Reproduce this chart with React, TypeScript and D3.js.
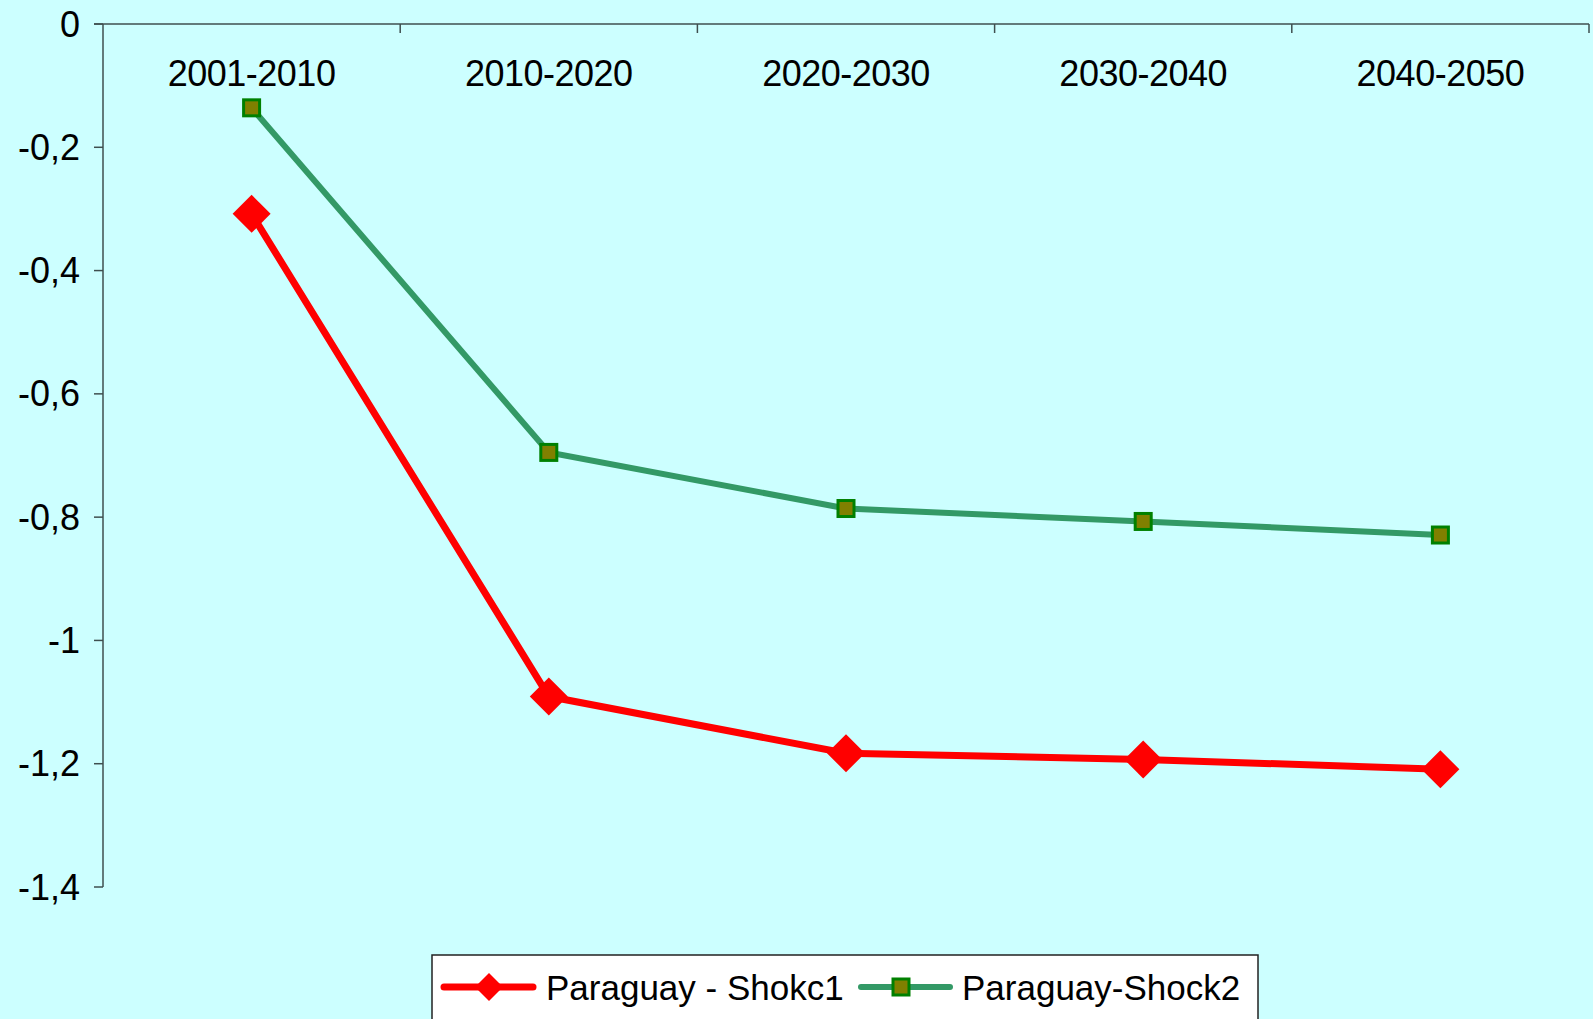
import React from 'react'
import * as d3 from 'd3'

const width = 1593
const height = 1019

const margins = {
  top: 24,
  left: 103,
  right: 4,
  bottom: 132,
}

const periods = ['2001-2010', '2010-2020', '2020-2030', '2030-2040', '2040-2050']
const shock1Values = [-0.308, -1.091, -1.183, -1.193, -1.209]
const shock2Values = [-0.136, -0.695, -0.786, -0.807, -0.829]
const yTicks = [0, -0.2, -0.4, -0.6, -0.8, -1, -1.2, -1.4]

const seriesNames = ['Paraguay - Shokc1', 'Paraguay-Shock2']

const colors = {
  background: '#CCFFFF',
  axis: '#3f4f4f',
  red: '#FF0000',
  green: '#339966',
  squareFill: '#808000',
  squareStroke: '#008000',
}

const textStyle = {
  fontFamily: 'Liberation Sans, Arial, sans-serif',
  fontSize: '35px',
  fill: '#000',
}

const formatTick = (v: number) => (v === 0 ? '0' : String(v).replace('.', ','))

function Diamond({ x, y, r }: { x: number; y: number; r: number }) {
  return (
    <path
      d={`M${x},${y - r}L${x + r},${y}L${x},${y + r}L${x - r},${y}Z`}
      fill={colors.red}
    />
  )
}

function Square({ x, y, s }: { x: number; y: number; s: number }) {
  return (
    <rect
      x={x - s / 2}
      y={y - s / 2}
      width={s}
      height={s}
      fill={colors.squareFill}
      stroke={colors.squareStroke}
      strokeWidth={3}
    />
  )
}

export default function App() {
  const x = d3
    .scaleBand()
    .domain(periods)
    .range([margins.left, width - margins.right])

  const y = d3
    .scaleLinear()
    .domain([0, -1.4])
    .range([margins.top, height - margins.bottom])

  const xc = (p: string) => (x(p) as number) + x.bandwidth() / 2

  const line = d3
    .line<number>()
    .x((_, i) => xc(periods[i]))
    .y((d) => y(d))

  const boundaries = periods.map((p) => x(p) as number).concat([width - margins.right])

  const legend = { x: 432, y: 955, w: 826, h: 80, lineY: 987 }

  return (
    <svg
      width={width}
      height={height}
      style={{ position: 'absolute', top: 0, left: 0, display: 'block' }}
    >
      <rect x={0} y={0} width={width} height={height} fill={colors.background} />

      {/* y axis */}
      <line
        x1={margins.left}
        x2={margins.left}
        y1={y(0)}
        y2={y(-1.4)}
        stroke={colors.axis}
        strokeWidth={1.5}
      />
      {yTicks.map((t) => (
        <g key={'y-' + t}>
          <line
            x1={margins.left - 9}
            x2={margins.left}
            y1={y(t)}
            y2={y(t)}
            stroke={colors.axis}
            strokeWidth={1.5}
          />
          <text
            x={80}
            y={y(t)}
            textAnchor="end"
            dominantBaseline="central"
            style={{ ...textStyle, fontSize: '36px' }}
          >
            {formatTick(t)}
          </text>
        </g>
      ))}

      {/* x axis along the top (value 0) */}
      <line
        x1={margins.left - 9}
        x2={width - margins.right}
        y1={y(0)}
        y2={y(0)}
        stroke={colors.axis}
        strokeWidth={1.5}
      />
      {boundaries.slice(1).map((b, i) => (
        <line
          key={'xt-' + i}
          x1={b}
          x2={b}
          y1={y(0)}
          y2={y(0) + 9}
          stroke={colors.axis}
          strokeWidth={1.5}
        />
      ))}
      {periods.map((p) => (
        <text
          key={'xl-' + p}
          x={xc(p)}
          y={86}
          textAnchor="middle"
          style={{ ...textStyle, fontSize: '36px', letterSpacing: '-0.5px' }}
        >
          {p}
        </text>
      ))}

      {/* series */}
      <path d={line(shock2Values) || ''} fill="none" stroke={colors.green} strokeWidth={6} />
      <path d={line(shock1Values) || ''} fill="none" stroke={colors.red} strokeWidth={7} />
      {shock2Values.map((v, i) => (
        <Square key={'s2-' + i} x={xc(periods[i])} y={y(v)} s={16} />
      ))}
      {shock1Values.map((v, i) => (
        <Diamond key={'s1-' + i} x={xc(periods[i])} y={y(v)} r={19} />
      ))}

      {/* legend */}
      <rect
        x={legend.x}
        y={legend.y}
        width={legend.w}
        height={legend.h}
        fill="#fff"
        stroke="#222"
        strokeWidth={1.5}
      />
      <line
        x1={444}
        x2={533}
        y1={legend.lineY}
        y2={legend.lineY}
        stroke={colors.red}
        strokeWidth={7}
        strokeLinecap="round"
      />
      <Diamond x={489} y={legend.lineY} r={14} />
      <text x={546} y={legend.lineY} dominantBaseline="central" style={textStyle}>
        {seriesNames[0]}
      </text>
      <line
        x1={861}
        x2={950}
        y1={legend.lineY}
        y2={legend.lineY}
        stroke={colors.green}
        strokeWidth={6}
        strokeLinecap="round"
      />
      <Square x={901} y={legend.lineY} s={16} />
      <text x={962} y={legend.lineY} dominantBaseline="central" style={textStyle}>
        {seriesNames[1]}
      </text>
    </svg>
  )
}
